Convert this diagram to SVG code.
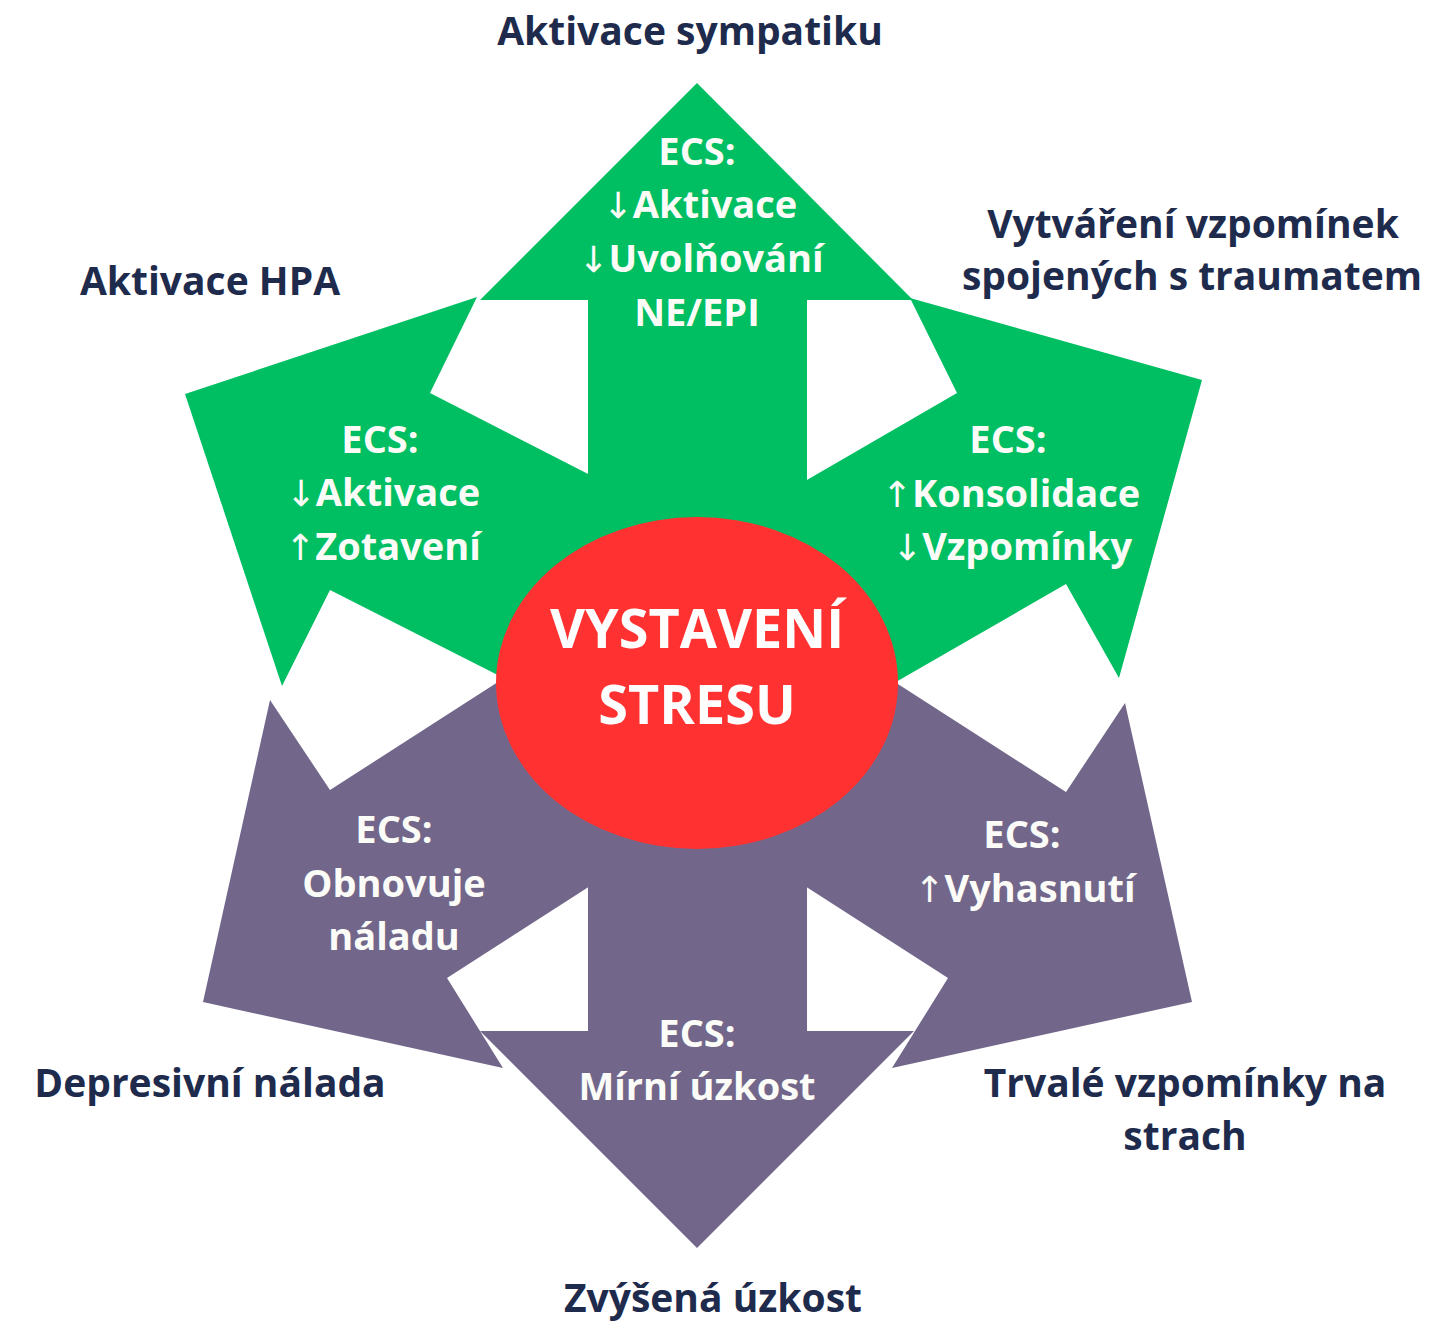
<svg xmlns="http://www.w3.org/2000/svg" width="1456" height="1322" viewBox="0 0 1456 1322">
<style>
.g{fill:#00bf63}
.p{fill:#72678a}
.in{font-family:"Open Sans","Liberation Sans",sans-serif;font-weight:bold;font-size:38px;fill:#fbfbf8;text-anchor:middle}
.ar{font-family:"DejaVu Sans",sans-serif;font-weight:normal;font-size:36px}
.lb{font-family:"Open Sans","Liberation Sans",sans-serif;font-weight:bold;font-size:39px;fill:#1e2b4c;text-anchor:middle}
.ct{font-family:"Open Sans","Liberation Sans",sans-serif;font-weight:bold;font-size:54px;fill:#fdfdfd;text-anchor:middle}
</style>
<rect width="1456" height="1322" fill="#ffffff"/>
<g id="arrows">
<g id="arrow-top"><polygon class="g" points="697,83 913,300 807,300 807,640 697,681 588,640 588,300 480,300"/></g>
<g id="arrow-hpa"><polygon class="g" points="185,394 477,297 430,393 639,500 697,681 553,703 330,590 282,686"/></g>
<g id="arrow-memory"><polygon class="g" points="1202,380 910,298 957,393 757,509 697,681 849,709 1066,584 1119,678"/></g>
<g id="arrow-depr"><polygon class="p" points="203,1002 270,700 330,790 523,666 697,681 615,870 447,978 503,1068"/></g>
<g id="arrow-fear"><polygon class="p" points="1192,1002 1125,703 1066,792 873,668 697,681 780,870 948,978 892,1068"/></g>
<g id="arrow-bottom"><polygon class="p" points="697,1248 914,1031 807,1031 807,730 697,681 588,730 588,1031 480,1031"/></g>
</g>
<g id="center">
<ellipse cx="697" cy="683" rx="201" ry="166" fill="#ff3131"/>
<text class="ct" x="697" y="648">VYSTAVENÍ</text>
<text class="ct" x="697" y="724">STRESU</text>
</g>
<g id="node-top">
<text class="in" x="697" y="165">ECS:</text>
<text class="in" x="700" y="218"><tspan class="ar">↓</tspan>Aktivace</text>
<text class="in" x="701" y="272"><tspan class="ar">↓</tspan>Uvolňování</text>
<text class="in" x="697" y="326">NE/EPI</text>
</g>
<g id="node-hpa">
<text class="in" x="380" y="453">ECS:</text>
<text class="in" x="383" y="506"><tspan class="ar">↓</tspan>Aktivace</text>
<text class="in" x="383" y="560"><tspan class="ar">↑</tspan>Zotavení</text>
</g>
<g id="node-memory">
<text class="in" x="1008" y="453">ECS:</text>
<text class="in" x="1011" y="507"><tspan class="ar">↑</tspan>Konsolidace</text>
<text class="in" x="1012" y="560"><tspan class="ar">↓</tspan>Vzpomínky</text>
</g>
<g id="node-depr">
<text class="in" x="394" y="843">ECS:</text>
<text class="in" x="394" y="897">Obnovuje</text>
<text class="in" x="394" y="950">náladu</text>
</g>
<g id="node-fear">
<text class="in" x="1022" y="848">ECS:</text>
<text class="in" x="1025" y="902"><tspan class="ar">↑</tspan>Vyhasnutí</text>
</g>
<g id="node-bottom">
<text class="in" x="697" y="1047">ECS:</text>
<text class="in" x="697" y="1100">Mírní úzkost</text>
</g>
<g id="labels">
<text class="lb" x="690" y="45">Aktivace sympatiku</text>
<text class="lb" x="210" y="295">Aktivace HPA</text>
<text class="lb" x="1193" y="238">Vytváření vzpomínek</text>
<text class="lb" x="1192" y="290">spojených s traumatem</text>
<text class="lb" x="210" y="1097">Depresivní nálada</text>
<text class="lb" x="1185" y="1097">Trvalé vzpomínky na</text>
<text class="lb" x="1185" y="1150">strach</text>
<text class="lb" x="713" y="1312">Zvýšená úzkost</text>
</g>
</svg>
